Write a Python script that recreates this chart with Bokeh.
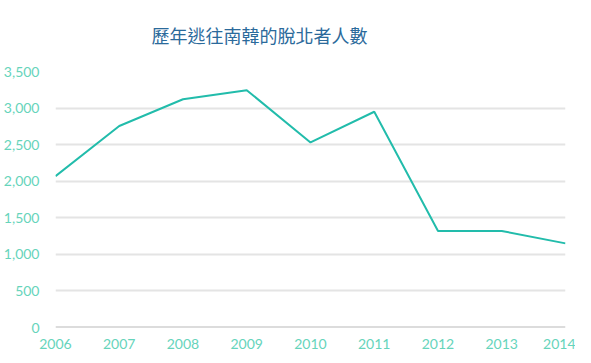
from bokeh.plotting import figure
from bokeh.models import Range1d, Span, FixedTicker, NumeralTickFormatter, Title
from bokeh.embed import file_html
from bokeh.resources import INLINE

title_text = "歷年逃往南韓的脫北者人數"
years = [2006, 2007, 2008, 2009, 2010, 2011, 2012, 2013, 2014]
defectors = [2070, 2755, 3120, 3245, 2530, 2950, 1320, 1320, 1150]
y_ticks = [0, 500, 1000, 1500, 2000, 2500, 3000, 3500]

p = figure(width=575, height=355, output_backend="svg", toolbar_location=None,
           x_range=Range1d(2006, 2014), y_range=Range1d(0, 3500),
           min_border_left=44, min_border_right=10, min_border_top=68, min_border_bottom=28)
p.title = Title(text=title_text, align="left", vertical_align="top",
                text_font="Noto Sans CJK TC", text_font_size="18px",
                text_color="#2b6a9b", text_font_style="normal", standoff=43, offset=96)
p.outline_line_color = None
p.background_fill_color = "white"

p.xaxis.ticker = FixedTicker(ticks=years)
p.yaxis.ticker = FixedTicker(ticks=y_ticks)
p.yaxis.formatter = NumeralTickFormatter(format="0,0")
for ax in (p.xaxis[0], p.yaxis[0]):
    ax.axis_label = None
    ax.axis_line_color = None
    ax.major_tick_line_color = None
    ax.minor_tick_line_color = None
    ax.major_tick_out = 0
    ax.major_tick_in = 0
    ax.major_label_text_color = "#66d4bb"
    ax.major_label_text_font = "Lato"
    ax.major_label_text_font_size = "14px"
    ax.major_label_text_line_height = 1.0
p.xaxis.major_label_standoff = 11
p.yaxis.major_label_standoff = 16

p.xgrid.grid_line_color = None
p.ygrid.grid_line_color = "#e4e4e4"
p.ygrid.grid_line_width = 2

p.add_layout(Span(location=0, dimension="width", line_color="#bababa", line_width=2))

p.line(years, defectors, line_color="#22bcab", line_width=2)

open("out.html", "w").write(file_html(p, INLINE))
